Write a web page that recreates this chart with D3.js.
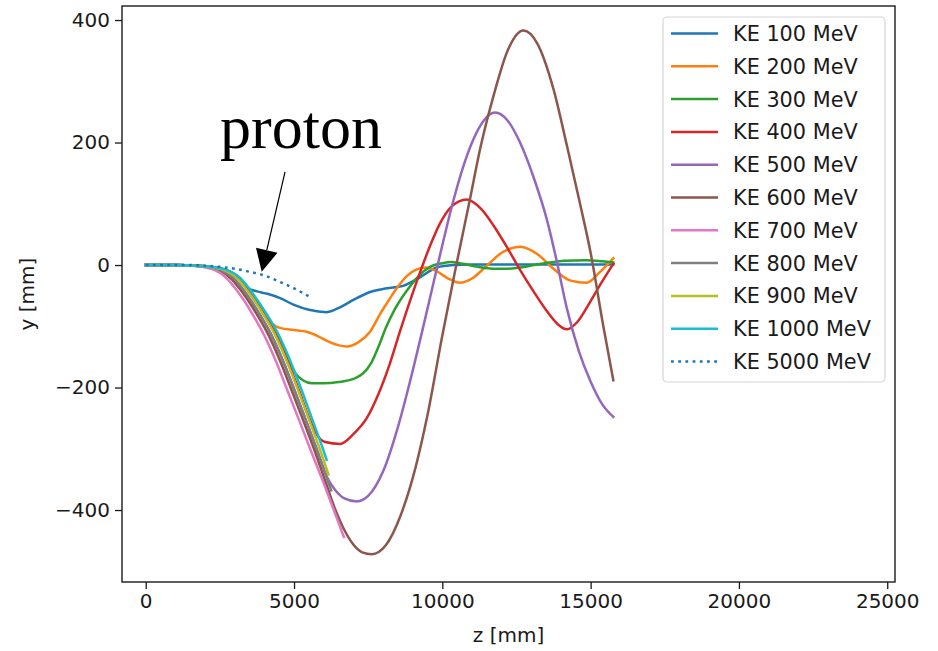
<!DOCTYPE html>
<html>
<head>
<meta charset="utf-8">
<script src="https://cdn.jsdelivr.net/npm/d3@7"></script>
<style>
  html, body { margin: 0; padding: 0; background: #fff; }
  svg { display: block; }
  text { font-family: "DejaVu Sans", sans-serif; fill: #1a1a1a; }
</style>
</head>
<body>
<svg id="chart" width="938" height="651"></svg>
<script>
// ---------- data (z [mm], y [mm]) ----------
const seriesNames = ["KE 100 MeV","KE 200 MeV","KE 300 MeV","KE 400 MeV","KE 500 MeV",
  "KE 600 MeV","KE 700 MeV","KE 800 MeV","KE 900 MeV","KE 1000 MeV","KE 5000 MeV"];
const seriesColors = ["#1f77b4","#ff7f0e","#2ca02c","#d62728","#9467bd",
  "#8c564b","#e377c2","#7f7f7f","#bcbd22","#17becf","#1f77b4"];
const seriesDotted = [false,false,false,false,false,false,false,false,false,false,true];

const ke100 = [[0,0],[1000,0],[1700,-1],[2200,-3],[2715,-8],[3190,-22],[3459,-38],[3750,-43],[4100,-47],[4528,-54],[5000,-65],[5500,-73],[6103,-77],[6551,-69],[7000,-57],[7563,-44],[8125,-38],[8675,-34],[9248,-20],[9811,-4],[10370,0],[11000,1],[12000,1],[13000,1],[14000,1],[15000,1],[15765,1]];
const ke200 = [[0,0],[1000,0],[1690,-1],[2183,-3],[2695,-8],[3171,-22],[3451,-38],[3746,-58],[4070,-82],[4300,-97],[4550,-103],[5000,-106],[5428,-109],[5800,-116],[6200,-126],[6777,-133],[7200,-125],[7563,-109],[7900,-80],[8200,-57],[8462,-38],[8800,-18],[9137,-7],[9450,-4],[9800,-10],[10200,-22],[10597,-29],[11000,-22],[11500,-1],[12000,20],[12620,30],[13200,18],[13700,-4],[14300,-25],[14868,-29],[15300,-12],[15765,11]];
const ke300 = [[0,0],[1000,0],[1684,-1],[2172,-3],[2680,-8],[3154,-22],[3434,-38],[3729,-58],[4052,-82],[4368,-108],[4811,-155],[5050,-177],[5300,-188],[5600,-193],[6000,-193],[6500,-191],[7000,-186],[7300,-178],[7600,-160],[7850,-133],[8100,-102],[8400,-72],[8800,-42],[9200,-18],[9585,-3],[10000,3],[10300,5],[10700,2],[11200,-3],[11700,-6],[12200,-6],[12620,-4],[13100,0],[13600,4],[14100,7],[14868,8],[15400,6],[15765,4]];
const ke400 = [[0,0],[1000,0],[1670,-1],[2148,-3],[2645,-8],[3113,-22],[3393,-38],[3689,-58],[4010,-82],[4324,-108],[4769,-155],[5164,-204],[5515,-250],[5760,-276],[6050,-289],[6551,-292],[7000,-276],[7451,-250],[7850,-210],[8237,-160],[8574,-108],[8900,-60],[9248,-12],[9600,33],[9922,68],[10300,95],[10822,107],[11300,92],[11719,65],[12170,30],[12620,-8],[13100,-45],[13520,-75],[13900,-97],[14200,-105],[14550,-93],[14950,-63],[15350,-30],[15765,2]];
const ke500 = [[0,0],[1000,0],[1620,-1],[2060,-3],[2520,-8],[2968,-22],[3248,-38],[3545,-58],[3860,-82],[4170,-108],[4616,-155],[5013,-204],[5372,-250],[5773,-302],[6150,-350],[6400,-368],[6700,-381],[7114,-386],[7500,-377],[8011,-336],[8500,-265],[8911,-190],[9400,-92],[9900,12],[10371,105],[10700,160],[11045,205],[11400,236],[11776,249],[12200,236],[12620,200],[13100,140],[13520,75],[13850,8],[14194,-70],[14600,-140],[14980,-188],[15400,-228],[15765,-248]];
const ke600 = [[0,0],[1000,0],[1588,-1],[2004,-3],[2440,-8],[2875,-22],[3155,-38],[3453,-58],[3764,-82],[4071,-108],[4518,-155],[4916,-204],[5281,-250],[5687,-302],[6040,-351],[6350,-394],[6650,-428],[6980,-455],[7300,-469],[7620,-472],[8100,-457],[8600,-408],[9100,-330],[9500,-245],[10000,-115],[10450,-5],[10900,100],[11300,195],[11719,275],[12200,350],[12731,383],[13200,362],[13743,288],[14200,195],[14643,100],[15000,20],[15428,-100],[15765,-188]];
const ke700 = [[0,0],[1000,0],[1540,-1],[1920,-3],[2320,-8],[2736,-22],[3016,-38],[3315,-58],[3620,-82],[3923,-108],[4372,-155],[4771,-204],[5144,-250],[5558,-302],[5960,-351],[6320,-397],[6680,-444]];
const ke800 = [[0,0],[1000,0],[1620,-1],[2060,-3],[2520,-8],[2968,-22],[3248,-38],[3545,-58],[3860,-82],[4170,-108],[4616,-155],[5013,-204],[5372,-250],[5773,-302],[6250,-368]];
const ke900 = [[0,0],[1000,0],[1660,-1],[2130,-3],[2620,-8],[3084,-22],[3364,-38],[3660,-58],[3980,-82],[4294,-108],[4738,-155],[5134,-204],[5486,-250],[5880,-302],[6160,-342]];
const ke1000 = [[0,0],[1000,0],[1700,-1],[2200,-3],[2720,-8],[3200,-22],[3480,-38],[3775,-58],[4100,-82],[4417,-108],[4860,-155],[5255,-204],[5600,-250],[5988,-302],[6100,-318]];
const ke5000 = [[0,0],[1000,0],[1500,0],[2000,-1],[2500,-3],[3000,-6],[3500,-11],[4000,-17],[4500,-27],[5000,-38],[5600,-54]];

const zTicks = [0, 5000, 10000, 15000, 20000, 25000];
const yTicks = [-400, -200, 0, 200, 400];
const xLabel = "z [mm]";
const yLabel = "y [mm]";
const annoText = "proton";
const annoTextPos = [2505, 191];   // data coords of text start (baseline)
const annoTail = [4697, 152];      // data coords of arrow tail
const annoTip = [3911, -11];       // data coords of arrow tip

const allSeries = [ke100, ke200, ke300, ke400, ke500, ke600, ke700, ke800, ke900, ke1000, ke5000];

// ---------- layout ----------
const plot = { left: 122, top: 6, right: 895, bottom: 582 };
const x = d3.scaleLinear().domain([-800, 25262]).range([plot.left, plot.right]);
const y = d3.scaleLinear().domain([-517.5, 422.9]).range([plot.bottom, plot.top]);

const svg = d3.select("#chart");
svg.append("rect").attr("width", 938).attr("height", 651).attr("fill", "#fff");

svg.append("defs").append("clipPath").attr("id", "clip")
  .append("rect").attr("x", plot.left).attr("y", plot.top)
  .attr("width", plot.right - plot.left).attr("height", plot.bottom - plot.top);

// lines
const line = d3.line().x(d => x(d[0])).y(d => y(d[1])).curve(d3.curveMonotoneX);
const gLines = svg.append("g").attr("clip-path", "url(#clip)");
allSeries.forEach((s, i) => {
  gLines.append("path")
    .attr("d", line(s))
    .attr("fill", "none")
    .attr("stroke", seriesColors[i])
    .attr("stroke-width", 2.5)
    .attr("stroke-linejoin", "round")
    .attr("stroke-linecap", seriesDotted[i] ? "butt" : "square")
    .attr("stroke-dasharray", seriesDotted[i] ? "2.8,4.4" : null);
});

// axes
const fmt = d => d < 0 ? "\u2212" + Math.abs(d) : String(d);
const xAxis = d3.axisBottom(x).tickValues(zTicks).tickFormat(fmt).tickSize(7).tickPadding(5);
const yAxis = d3.axisLeft(y).tickValues(yTicks).tickFormat(fmt).tickSize(7).tickPadding(5);

const gx = svg.append("g").attr("transform", `translate(0,${plot.bottom})`).call(xAxis);
const gy = svg.append("g").attr("transform", `translate(${plot.left},0)`).call(yAxis);
[gx, gy].forEach(g => {
  g.select(".domain").remove();
  g.selectAll(".tick line").attr("stroke", "#1a1a1a").attr("stroke-width", 1.3);
  g.selectAll(".tick text").attr("font-size", 20).attr("font-family", "DejaVu Sans").attr("fill", "#1a1a1a");
});

// frame
svg.append("rect")
  .attr("x", plot.left).attr("y", plot.top)
  .attr("width", plot.right - plot.left).attr("height", plot.bottom - plot.top)
  .attr("fill", "none").attr("stroke", "#1a1a1a").attr("stroke-width", 1.4);

// axis labels
svg.append("text").attr("x", (plot.left + plot.right) / 2).attr("y", 642)
  .attr("text-anchor", "middle").attr("font-size", 20).text(xLabel);
svg.append("text").attr("transform", `translate(34,${(plot.top + plot.bottom) / 2}) rotate(-90)`)
  .attr("text-anchor", "middle").attr("font-size", 20).text(yLabel);

// annotation
svg.append("text").attr("x", x(annoTextPos[0])).attr("y", y(annoTextPos[1]))
  .attr("font-size", 62)
  .style("font-family", "'Liberation Serif', serif").style("fill", "#000")
  .text(annoText);
{
  const x0 = x(annoTail[0]), y0 = y(annoTail[1]);
  const x1 = x(annoTip[0]), y1 = y(annoTip[1]);
  const ang = Math.atan2(y1 - y0, x1 - x0);
  const headLen = 22, headHalf = 11;
  const bx = x1 - headLen * Math.cos(ang), by = y1 - headLen * Math.sin(ang);
  svg.append("line").attr("x1", x0).attr("y1", y0).attr("x2", bx).attr("y2", by)
    .attr("stroke", "#000").attr("stroke-width", 1.2);
  const px = -Math.sin(ang), py = Math.cos(ang);
  svg.append("path")
    .attr("d", `M${x1},${y1} L${bx + px * headHalf},${by + py * headHalf} L${bx - px * headHalf},${by - py * headHalf} Z`)
    .attr("fill", "#000");
}

// legend
const leg = { x: 663, y: 17, w: 222, h: 365, rowH: 32.8, firstRow: 33.5 };
svg.append("rect").attr("x", leg.x).attr("y", leg.y).attr("width", leg.w).attr("height", leg.h)
  .attr("rx", 4).attr("fill", "#fff").attr("fill-opacity", 0.8)
  .attr("stroke", "#d6d6d6").attr("stroke-width", 1.2);
seriesNames.forEach((name, i) => {
  const cy = leg.firstRow + i * leg.rowH;
  svg.append("line").attr("x1", 671).attr("x2", 718).attr("y1", cy).attr("y2", cy)
    .attr("stroke", seriesColors[i]).attr("stroke-width", 2.5)
    .attr("stroke-dasharray", seriesDotted[i] ? "2.8,4.4" : null);
  svg.append("text").attr("x", 733).attr("y", cy).attr("dy", "0.36em")
    .attr("font-size", 20.8).text(name);
});
</script>
</body>
</html>
